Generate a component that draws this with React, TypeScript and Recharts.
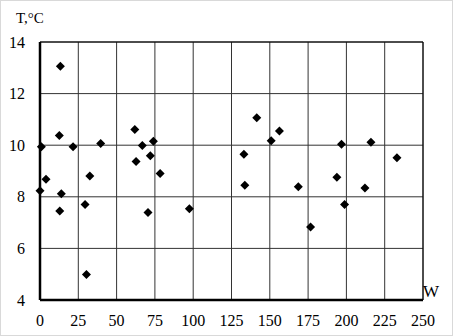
import { ScatterChart, Scatter, XAxis, YAxis, CartesianGrid, ReferenceLine } from "recharts";

// W values
const wValues = [
  0.9, 0, 3.9, 13.3, 12.6, 21.6, 39.6, 61.9, 66.8, 74.0, 72.0, 62.7, 13.9, 12.9, 32.5, 29.4, 30.3,
  78.4, 70.5, 97.5, 141.5, 156.3, 150.9, 133.1, 196.8, 216.0, 233.0, 133.7, 168.6, 193.8, 212.1,
  198.8, 176.6,
];
// T values, °C
const tValues = [
  9.94, 8.23, 8.68, 13.06, 10.38, 9.94, 10.07, 10.61, 9.99, 10.15, 9.59, 9.37, 8.12, 7.45, 8.81, 7.7,
  4.99, 8.9, 7.39, 7.54, 11.06, 10.55, 10.17, 9.65, 10.04, 10.11, 9.51, 8.45, 8.39, 8.76, 8.34, 7.7,
  6.83,
];
const xTicks = [0, 25, 50, 75, 100, 125, 150, 175, 200, 225, 250];
const yTicks = [4, 6, 8, 10, 12, 14];

const data = wValues.map((w, i) => ({ w, t: tValues[i] }));

const font = "Liberation Serif";

// square diamond like the Excel marker
const Diamond = (props: any) => {
  const { cx, cy } = props;
  const r = 4.5;
  return (
    <polygon
      points={`${cx},${cy - r} ${cx + r},${cy} ${cx},${cy + r} ${cx - r},${cy}`}
      fill="#000"
    />
  );
};

export default function App() {
  return (
    <div
      style={{
        position: "absolute",
        left: 0,
        top: 0,
        width: 453,
        height: 336,
        background: "#fff",
        border: "1px solid #d9d9d9",
        boxSizing: "border-box",
        fontFamily: font,
      }}
    >
      <div style={{ position: "absolute", left: 0, top: 0 }}>
        <ScatterChart width={453} height={336} margin={{ top: 41, right: 31, bottom: 7, left: 9 }}>
          <CartesianGrid stroke="#333" strokeWidth={1} />
          <XAxis
            type="number"
            dataKey="w"
            domain={[0, 250]}
            ticks={xTicks}
            interval={0}
            height={30}
            tickSize={0}
            tickMargin={15}
            axisLine={{ stroke: "#000", strokeWidth: 2.5 }}
            tickLine={false}
            tick={{ fill: "#000", fontSize: 16, fontFamily: font }}
          />
          <YAxis
            type="number"
            dataKey="t"
            domain={[4, 14]}
            ticks={yTicks}
            interval={0}
            width={30}
            tickSize={0}
            tickMargin={15}
            axisLine={{ stroke: "#000", strokeWidth: 2.5 }}
            tickLine={false}
            tick={{ fill: "#000", fontSize: 16, fontFamily: font }}
          />
          <ReferenceLine y={14} stroke="#000" strokeWidth={1} />
          <ReferenceLine x={250} stroke="#000" strokeWidth={1} />
          <Scatter data={data} shape={<Diamond />} isAnimationActive={false} />
        </ScatterChart>
      </div>
      <span style={{ position: "absolute", left: 15, top: 7, fontSize: 15, lineHeight: "20px", color: "#000" }}>
        T,°C
      </span>
      <span style={{ position: "absolute", left: 422, top: 281, fontSize: 17, lineHeight: "20px", color: "#000" }}>
        W
      </span>
    </div>
  );
}
